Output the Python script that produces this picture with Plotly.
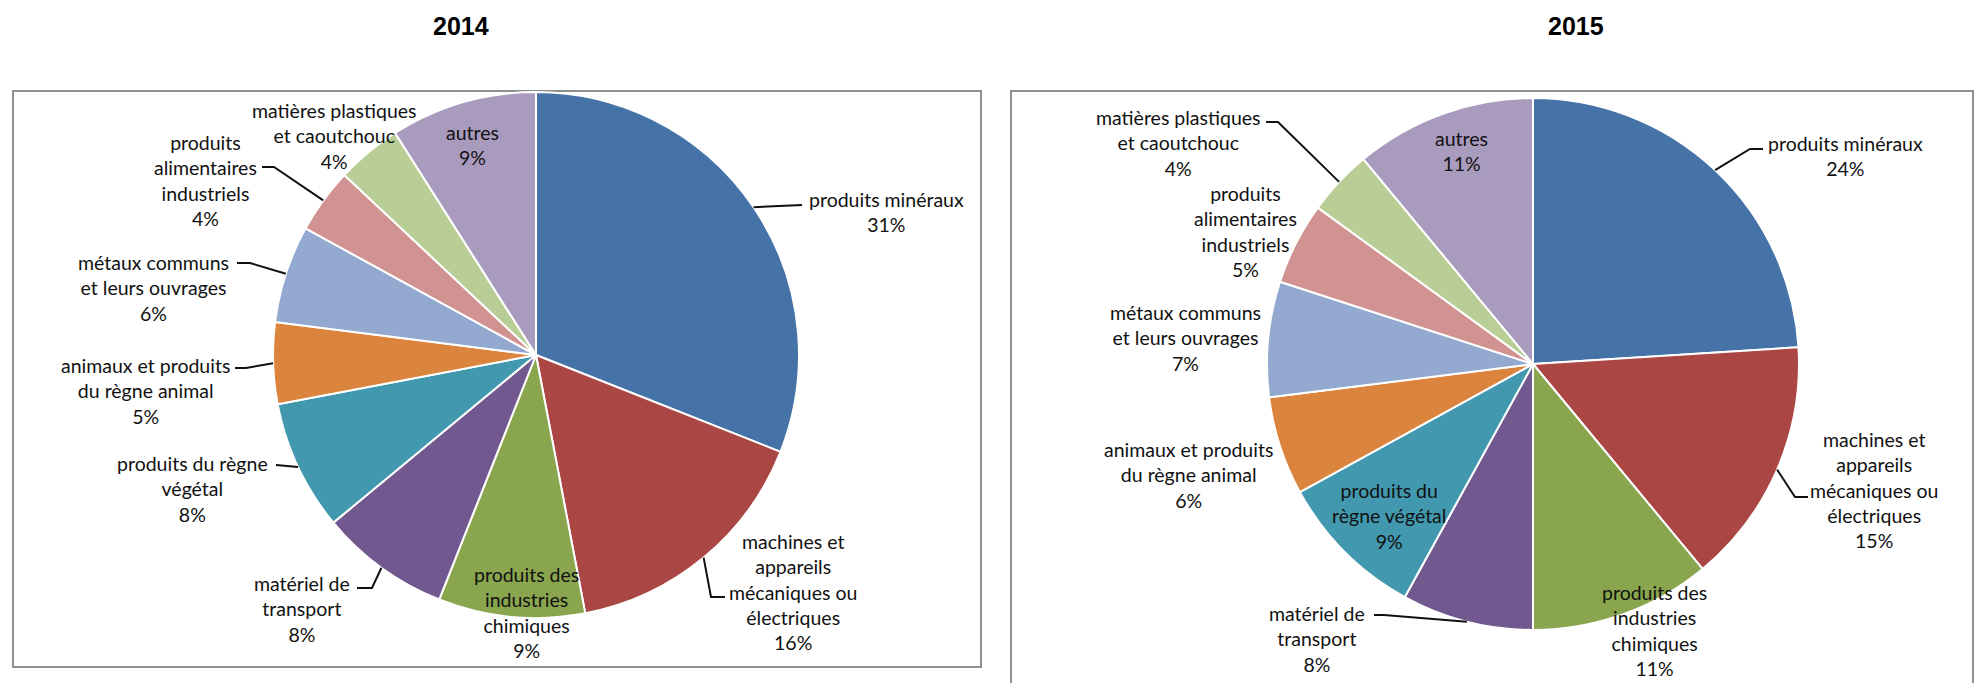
import math
import plotly.graph_objects as go

W, H = 1977, 683

# ---------------- data ----------------
YEARS = ["2014", "2015"]
CATEGORIES = [
    "produits minéraux",
    "machines et appareils mécaniques ou électriques",
    "produits des industries chimiques",
    "matériel de transport",
    "produits du règne végétal",
    "animaux et produits du règne animal",
    "métaux communs et leurs ouvrages",
    "produits alimentaires industriels",
    "matières plastiques et caoutchouc",
    "autres",
]
VALUES_2014 = [31, 16, 9, 8, 8, 5, 6, 4, 4, 9]
VALUES_2015 = [24, 15, 11, 8, 9, 6, 7, 5, 4, 11]

LABELS_2014 = [
    "produits minéraux",
    "machines et<br>appareils<br>mécaniques ou<br>électriques",
    "produits des<br>industries<br>chimiques",
    "matériel de<br>transport",
    "produits du règne<br>végétal",
    "animaux et produits<br>du règne animal",
    "métaux communs<br>et leurs ouvrages",
    "produits<br>alimentaires<br>industriels",
    "matières plastiques<br>et caoutchouc",
    "autres",
]
LABELS_2015 = [
    "produits minéraux",
    "machines et<br>appareils<br>mécaniques ou<br>électriques",
    "produits des<br>industries<br>chimiques",
    "matériel de<br>transport",
    "produits du<br>règne végétal",
    "animaux et produits<br>du règne animal",
    "métaux communs<br>et leurs ouvrages",
    "produits<br>alimentaires<br>industriels",
    "matières plastiques<br>et caoutchouc",
    "autres",
]

COLORS = ["#4572A7", "#AA4643", "#89A54E", "#71588F", "#4198AF",
          "#DB843D", "#93A9CF", "#D19392", "#B9CD96", "#A99BBD"]

# ---------------- layout (pixel positions) ----------------
PIE_GEOM = {"2014": (536, 355, 263), "2015": (1533, 364, 266)}
TITLE_POS = {"2014": (461, 26), "2015": (1576, 26)}
BOXES = [(13, 91, 981, 667), (1011, 91, 1973, 695)]

# label centre (px) and leader path after the slice anchor (px) or None
LABEL_LAYOUT = {
    "2014": [
        ((886, 212), [(802, 205)]),
        ((793, 592), [(711, 597), (725, 597)]),
        ((526, 612), None),
        ((302, 609), [(372, 588), (357, 588)]),
        ((192, 489), [(276, 465)]),
        ((145, 391), [(246, 368), (235, 368)]),
        ((153, 288), [(250, 263), (237, 263)]),
        ((205, 180), [(274, 167), (262, 167)]),
        ((334, 136), None),
        ((472, 145), None),
    ],
    "2015": [
        ((1845, 156), [(1750, 149), (1763, 149)]),
        ((1874, 490), [(1795, 497), (1808, 497)]),
        ((1654, 630), None),
        ((1317, 639), [(1384, 615), (1374, 615)]),
        ((1389, 516), None),
        ((1188, 475), None),
        ((1185, 338), None),
        ((1245, 231), None),
        ((1178, 143), [(1278, 122), (1266, 122)]),
        ((1461, 151), None),
    ],
}


def px(x):
    return x / W


def py(y):
    return 1 - y / H


fig = go.Figure()
annotations = []
shapes = []

for x0, y0, x1, y1 in BOXES:
    shapes.append(dict(type="rect", xref="paper", yref="paper",
                       x0=px(x0), x1=px(x1), y0=py(y1), y1=py(y0),
                       line=dict(color="#8e8e8e", width=2), layer="below"))

DATA = {"2014": (VALUES_2014, LABELS_2014), "2015": (VALUES_2015, LABELS_2015)}

for year in YEARS:
    values, labels = DATA[year]
    cx, cy, r = PIE_GEOM[year]
    fig.add_trace(go.Pie(
        labels=CATEGORIES, values=values, sort=False, direction="clockwise",
        rotation=0, textinfo="none", hoverinfo="label+percent",
        marker=dict(colors=COLORS, line=dict(color="white", width=2)),
        domain=dict(x=[px(cx - r), px(cx + r)], y=[py(cy + r), py(cy - r)]),
        showlegend=False,
    ))
    total = sum(values)
    cum = 0
    for v, lab, (pos, leader) in zip(values, labels, LABEL_LAYOUT[year]):
        ang = math.radians(360 * (cum + v / 2) / total)
        cum += v
        ax = cx + r * math.sin(ang)
        ay = cy - r * math.cos(ang)
        annotations.append(dict(
            x=px(pos[0]), y=py(pos[1]), xref="paper", yref="paper",
            text=f"{lab}<br>{round(100 * v / total)}%", showarrow=False,
            xanchor="center", yanchor="middle", align="center",
            font=dict(family="Lato", size=19.5, color="#111111"),
        ))
        if leader:
            pts = [(ax, ay)] + leader
            path = "M " + " L ".join(f"{px(a)},{py(b)}" for a, b in pts)
            shapes.append(dict(type="path", xref="paper", yref="paper",
                               path=path, line=dict(color="#111111", width=2)))
    tx, ty = TITLE_POS[year]
    annotations.append(dict(
        x=px(tx), y=py(ty), xref="paper", yref="paper", text=year,
        showarrow=False, xanchor="center", yanchor="middle",
        font=dict(family="Liberation Sans", size=25, color="#000000", weight="bold"),
    ))

fig.update_layout(
    width=W, height=H, margin=dict(l=0, r=0, t=0, b=0),
    paper_bgcolor="white", plot_bgcolor="white",
    annotations=annotations, shapes=shapes,
)

fig.write_html(
    "out.html",
    config={"displayModeBar": False},
    post_script="document.body.style.margin='0';document.documentElement.style.overflow='hidden';",
)
